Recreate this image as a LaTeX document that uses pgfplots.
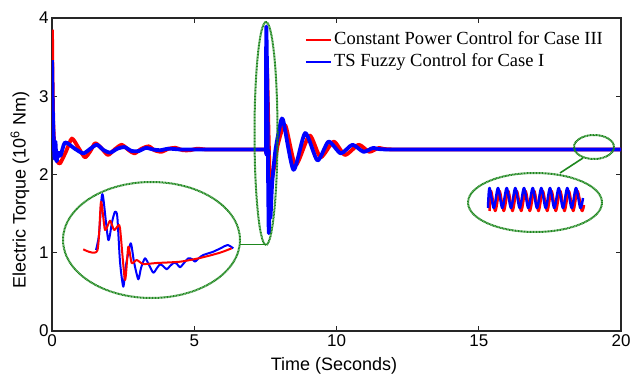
\documentclass[border=0pt]{standalone}
\usepackage{pgfplots}
\pgfplotsset{compat=1.18}
\usepackage{fontspec}
\setmainfont{Liberation Serif}
\newfontfamily\arial{Liberation Sans}
\definecolor{mygreen}{RGB}{30,135,30}
\begin{document}
\begin{tikzpicture}
\useasboundingbox (0pt,0pt) rectangle (631pt,374pt);
\begin{axis}[
  at={(52pt,43pt)}, anchor=south west,
  scale only axis, width=569pt, height=313pt,
  xmin=0, xmax=20, ymin=0, ymax=4,
  xtick={0,5,10,15,20}, ytick={0,1,2,3,4},
  tick align=inside, major tick length=5pt,
  axis line style={line width=1.2pt, black!85},
  tick style={line width=1pt, black!85},
  ticklabel style={font=\arial\fontsize{17}{20}\selectfont},
  /pgf/number format/assume math mode=true,
  xlabel={Time (Seconds)},
  ylabel={Electric Torque (10\textsuperscript{6} Nm)},
  label style={font=\arial\fontsize{18}{20}\selectfont},
  xlabel style={at={(axis description cs:0.4956,-0.112)}, anchor=center},
  ylabel style={at={(axis description cs:-0.0562,0.45)}, anchor=center},
  legend style={at={(axis description cs:0.4446,0.965)}, anchor=north west,
    draw=none, fill=none, font=\fontsize{18.5}{20}\selectfont,
    inner sep=0pt, row sep=0pt,
    nodes={inner sep=2.5pt, text height=13pt, text depth=4pt}},
  legend cell align=left,
  legend image code/.code={\draw[#1, line width=1.5pt] (0pt,0pt) -- (25pt,0pt);},
]
\addplot[red, line width=3.8pt, line join=round, smooth, tension=0.4] coordinates {
(0,3.85)(0.02,3.2)(0.05,2.6)(0.1,2.3)(0.18,2.18)(0.28,2.14)(0.5,2.3)(0.7,2.46)(0.95,2.33)(1.16,2.22)(1.35,2.3)(1.52,2.4)(1.75,2.33)(1.97,2.25)(2.2,2.32)(2.45,2.38)(2.7,2.31)(2.9,2.27)(3.15,2.33)(3.4,2.36)(3.6,2.31)(3.85,2.29)(4.1,2.33)(4.35,2.34)(4.6,2.31)(4.85,2.31)(5.1,2.33)(5.4,2.32)(6,2.32)(7,2.32)(7.5,2.32)
(7.53,2.32)(7.55,3.45)(7.6,2.7)(7.65,2.0)(7.7,1.9)(7.8,2.08)(7.95,2.4)(8.2,2.63)(8.56,2.12)(9.05,2.5)(9.44,2.22)(9.9,2.42)(10.3,2.25)(10.78,2.38)(11.15,2.29)(11.5,2.34)(12,2.32)(16,2.32)(20,2.32)
};
\addlegendentry{Constant Power Control for Case III}
\addplot[blue, line width=3.8pt, line join=round, smooth, tension=0.4] coordinates {
(0,3.46)(0.03,2.8)(0.06,2.45)(0.09,2.2)(0.12,2.42)(0.16,2.17)(0.22,2.28)(0.3,2.24)(0.46,2.41)(0.8,2.33)(1.1,2.27)(1.35,2.33)(1.58,2.38)(1.82,2.31)(2.05,2.28)(2.3,2.33)(2.55,2.35)(2.8,2.30)(3.05,2.30)(3.3,2.34)(3.55,2.32)(3.8,2.31)(4.1,2.33)(4.5,2.32)(5,2.32)(7.5,2.32)
(7.52,2.32)(7.53,3.88)(7.56,3.3)(7.58,2.6)(7.6,1.8)(7.62,1.25)(7.65,1.55)(7.68,1.45)(7.74,1.9)(7.85,2.3)(8.0,2.6)(8.12,2.7)(8.49,2.06)(8.9,2.53)(9.33,2.18)(9.72,2.42)(10.15,2.27)(10.56,2.38)(10.95,2.29)(11.3,2.34)(11.8,2.32)(16,2.32)(20,2.32)
};
\addlegendentry{TS Fuzzy Control for Case I}
\end{axis}
% overlay axis for the zoomed insets (picture units)
\begin{axis}[
  at={(0pt,0pt)}, anchor=south west,
  scale only axis, width=631pt, height=374pt,
  xmin=0, xmax=631, ymin=0, ymax=374, y dir=reverse,
  hide axis, clip=false,
]
\draw[mygreen, line width=2pt, dash pattern=on 1pt off 0.5pt] (axis cs:266,133.5) ellipse [x radius=11.5pt, y radius=111.5pt];
\draw[mygreen, line width=2pt, dash pattern=on 1pt off 0.5pt] (axis cs:151.5,240) ellipse [x radius=88.5pt, y radius=58pt];
\draw[mygreen, line width=2pt, dash pattern=on 1pt off 0.5pt] (axis cs:594,147) ellipse [x radius=20pt, y radius=12pt];
\draw[mygreen, line width=2pt, dash pattern=on 1pt off 0.5pt] (axis cs:535,202.5) ellipse [x radius=67pt, y radius=29.5pt];
\draw[mygreen, line width=1.6pt] (axis cs:240,244.5) -- (axis cs:266,244.5);
\draw[mygreen, line width=1.6pt] (axis cs:560,173) -- (axis cs:583,158);
\addplot[blue, line width=2pt, line join=round, smooth, tension=0.4] coordinates {
(96,250)(99,235)(101.7,197)(103.3,198)(108.3,240)(112,222)(115,211.7)(117.3,216.7)(120,261.7)(123.3,286.7)(126,265)(130.7,243.3)(134,262)(138.3,279.3)(141,268)(145,258.3)(149,265)(153.3,272.7)(157,268)(160,264.3)(163,266)(166.7,269.3)(170,266)(174,262.7)(177,264)(180,267.3)(184,263)(188.3,258.3)(192,259)(195,261.7)(199,258)(203.3,255)(213.3,251.7)(221.7,247.7)(227.7,245)(233.3,248.3)
};
\addplot[red, line width=2pt, line join=round, smooth, tension=0.4] coordinates {
(83.3,249.3)(97.3,250.7)(101,201.7)(105,230)(110,220.7)(114,230)(117.3,226.7)(120,228)(125,280)(128.3,246.7)(131.7,263)(136.7,260)(143.3,264)(156.7,263)(180,261.7)(200,258)(220,252.7)(231.7,248.3)
};
\addplot[red, line width=2.5pt, line join=round, smooth, tension=0.5] coordinates {
(489.5,211)(491,191)(495.3,211)(499.5,191)(503.8,211)(508.2,191)(512.5,211)(516.8,191)(521.2,211)(525.5,191)(529.8,211)(534.2,191)(538.5,211)(542.8,191)(547.2,211)(551.5,191)(555.8,211)(560.2,191)(564.5,211)(568.8,191)(573.2,211)(577.5,191)(581.8,211)(584,205)
};
\addplot[blue, line width=2.5pt, line join=round, smooth, tension=0.5] coordinates {
(488,208)(489.5,188)(493.8,208)(498,188)(502.3,208)(506.7,188)(511,208)(515.3,188)(519.7,208)(524,188)(528.3,208)(532.7,188)(537,208)(541.3,188)(545.7,208)(550,188)(554.3,208)(558.7,188)(563,208)(567.3,188)(571.7,208)(576,188)(580.3,208)(583,198)
};
\end{axis}
\end{tikzpicture}
\end{document}
